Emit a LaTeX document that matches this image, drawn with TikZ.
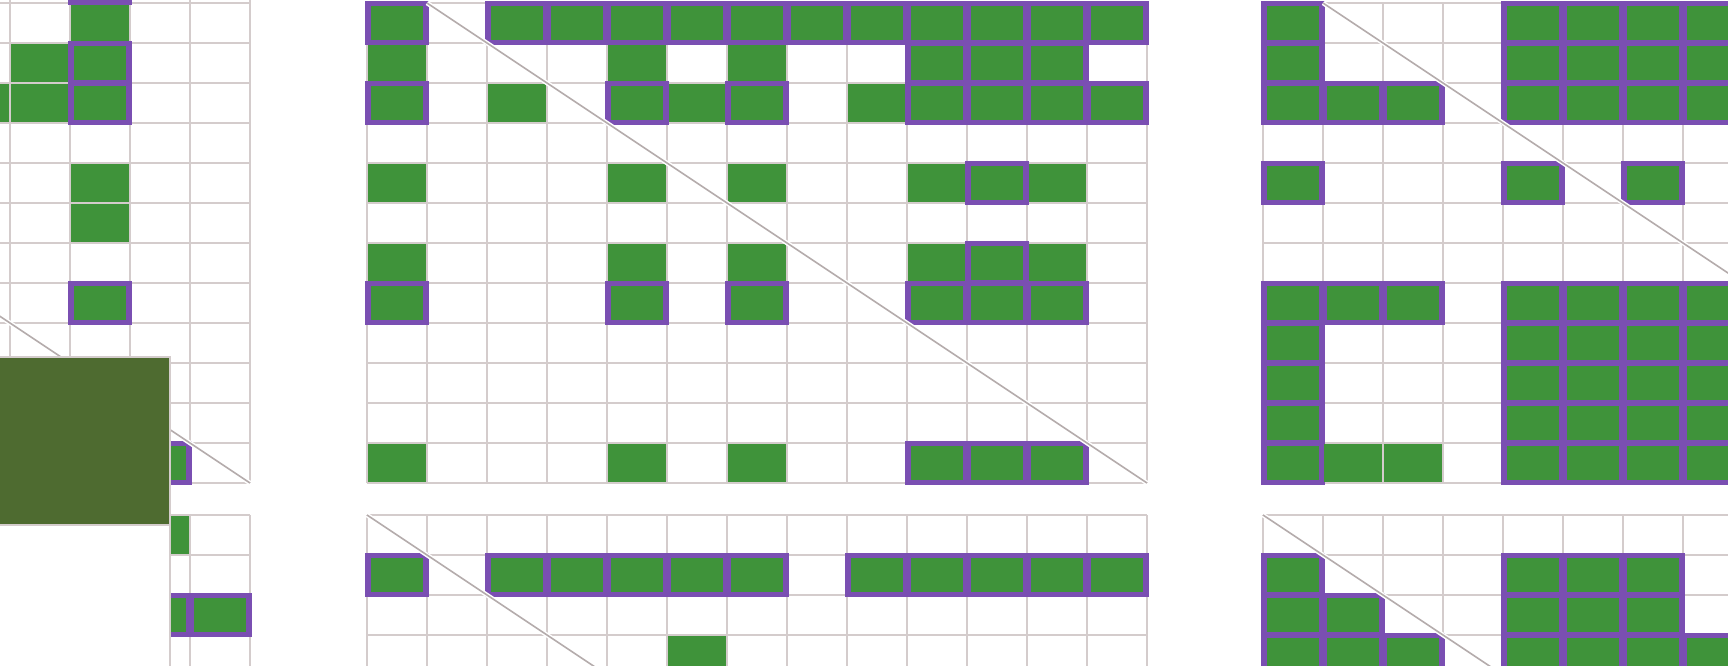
\documentclass[tikz,border=0pt]{standalone}
\usepackage{tikz}
\usetikzlibrary{positioning}

\definecolor{cellgreen}{HTML}{3F933A}
\definecolor{markpurple}{HTML}{7A4FB2}
\definecolor{gridgray}{HTML}{D4CCCC}
\definecolor{diaggray}{HTML}{B5ACAC}
\definecolor{paneloilve}{HTML}{4E6B30}

\tikzset{
  gridline/.style={draw=gridgray, line width=0.45pt},
  plainfill/.style={fill=cellgreen},
  markframe/.style={fill=markpurple},
  diagline/.style={draw=diaggray, line width=0.45pt},
  diaghalo/.style={draw=white, line width=1.3pt},
}

% one cell is 60 x 40 units, origin at the panel's top-left corner
\newcommand{\plaincell}[2]{\fill[plainfill] ({60*(#1)+1},{40*(#2)+1}) rectangle ({60*(#1)+59},{40*(#2)+39});}
\newcommand{\markcell}[2]{%
  \fill[markframe] ({60*(#1)-2},{40*(#2)-2}) rectangle ({60*(#1)+62},{40*(#2)+42});
  \fill[plainfill] ({60*(#1)+4},{40*(#2)+3}) rectangle ({60*(#1)+56},{40*(#2)+37});}
\newcommand{\cellgrid}[2]{%
  \foreach \c in {0,...,13} {\draw[gridline] ({60*\c},{40*(#1)}) -- ({60*\c},{40*(#2)});}
  \foreach \r in {#1,...,#2} {\draw[gridline] (0,{40*\r}) -- (780,{40*\r});}}
\newcommand{\topdiag}{\draw[diaghalo] (60,0) -- (780,480); \draw[diagline] (60,0) -- (780,480);}
\newcommand{\lowdiag}{\draw[diaghalo] (0,0) -- (300,200); \draw[diagline] (0,0) -- (300,200);}

\begin{document}
\begin{tikzpicture}[x=0.1mm, y=-0.1mm]
  \useasboundingbox (0,0) rectangle (1728,665);
  \clip (0,0) rectangle (1728,665);

  % left panel, upper block
  \begin{scope}[shift={(-530,3)}]
    \cellgrid{-1}{12}
    \foreach \c/\r in {10/0, 9/1, 8/2, 9/2, 10/4, 10/5} {\plaincell{\c}{\r}}
    \foreach \c/\r in {10/-1, 10/1, 10/2, 10/7, 11/11} {\markcell{\c}{\r}}
    \topdiag
  \end{scope}
  % left panel, lower block
  \begin{scope}[shift={(-530,515)}]
    \cellgrid{0}{4}
    \plaincell{11}{0}
    \markcell{11}{2}
    \markcell{12}{2}
  \end{scope}

  % middle panel, upper block
  \begin{scope}[shift={(367,3)}]
    \cellgrid{0}{12}
    \foreach \c/\r in {0/1, 4/1, 6/1, 2/2, 5/2, 8/2, 0/4, 4/4, 6/4, 9/4, 11/4,
                       0/6, 4/6, 6/6, 9/6, 11/6, 0/11, 4/11, 6/11} {\plaincell{\c}{\r}}
    \foreach \c in {0,2,3,...,12} {\markcell{\c}{0}}
    \foreach \c in {9,10,11} {\markcell{\c}{1}}
    \foreach \c in {0,4,6,9,10,11,12} {\markcell{\c}{2}}
    \markcell{10}{4}
    \markcell{10}{6}
    \foreach \c in {0,4,6,9,10,11} {\markcell{\c}{7}}
    \foreach \c in {9,10,11} {\markcell{\c}{11}}
    \topdiag
  \end{scope}
  % middle panel, lower block
  \begin{scope}[shift={(367,515)}]
    \cellgrid{0}{4}
    \foreach \c in {0,2,3,4,5,6,8,9,10,11,12} {\markcell{\c}{1}}
    \plaincell{5}{3}
    \lowdiag
  \end{scope}

  % right panel, upper block
  \begin{scope}[shift={(1263,3)}]
    \cellgrid{0}{12}
    \foreach \r in {0,1,2,4,7,8,9,10,11} {\markcell{0}{\r}}
    \foreach \r in {0,1,2,7,8,9,10,11} {
      \foreach \c in {4,...,7} {\markcell{\c}{\r}}
    }
    \foreach \c/\r in {1/2, 2/2, 1/7, 2/7, 4/4, 6/4} {\markcell{\c}{\r}}
    \plaincell{1}{11}
    \plaincell{2}{11}
    \topdiag
  \end{scope}
  % right panel, lower block
  \begin{scope}[shift={(1263,515)}]
    \cellgrid{0}{4}
    \foreach \c/\r in {0/1, 4/1, 5/1, 6/1, 0/2, 1/2, 4/2, 5/2, 6/2,
                       0/3, 1/3, 2/3, 4/3, 5/3, 6/3, 7/3} {\markcell{\c}{\r}}
    \lowdiag
  \end{scope}

  % pasted box over the left panel
  \filldraw[fill=white, draw=gridgray, line width=0.5pt] (-5,357) rectangle (170,700);
  \filldraw[fill=paneloilve, draw=gridgray, line width=0.5pt] (-5,357) rectangle (170,525);
\end{tikzpicture}
\end{document}
